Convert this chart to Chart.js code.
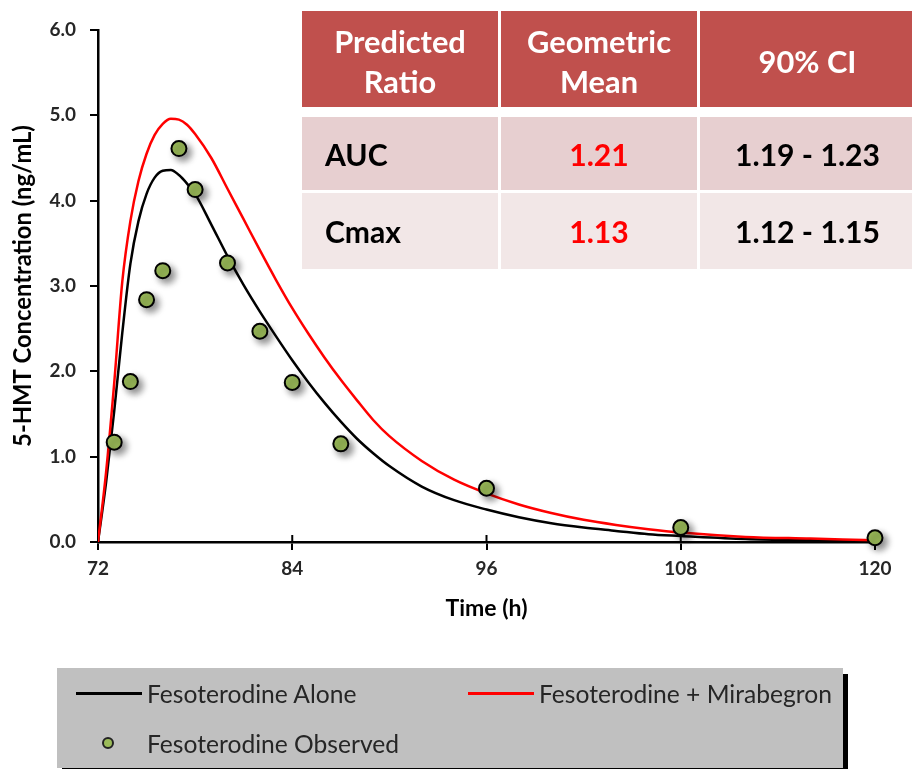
<!DOCTYPE html>
<html>
<head>
<meta charset="utf-8">
<script src="https://cdn.jsdelivr.net/npm/chart.js@4.4.1/dist/chart.umd.min.js"></script>
<style>
  html, body { margin: 0; padding: 0; background: #fff; overflow: hidden; }
  #wrap { position: relative; width: 912px; height: 769px; }
  #c { position: absolute; left: 0; top: 0; }
  #tbl { position: absolute; left: 302px; top: 11px; display: grid;
         grid-template-columns: 196px 196px 215px; grid-template-rows: 96px 4px 73px 76px;
         column-gap: 3px; row-gap: 3px; font-family: Lato, sans-serif; font-weight: bold; }
  #tbl div { display: flex; align-items: center; justify-content: center; text-align: center; box-sizing: border-box; }
  #tbl .h { background: #C0504D; color: #fff; padding-top: 6px; line-height: 40px; }
  #tbl .r1 { background: #E7CFD0; }
  #tbl .r2 { background: #F2E7E7; }
  #tbl .lab { justify-content: flex-start; padding-left: 23px; color: #000; }
  #tbl .gm { color: #FF0000; }
  #tbl .ci { color: #000; }
  #leg { position: absolute; left: 57px; top: 668px; width: 786px; height: 100px; background: #C0C0C0;
         box-shadow: 5px 6px 0 #000; font-family: Lato, sans-serif; color: #262626; }
  #leg .it { position: absolute; display: flex; align-items: center; height: 30px; white-space: nowrap; }
  #leg .sw { height: 3px; }
  #leg .dot { width: 12px; height: 12px; border-radius: 50%; border: 2px solid #222; background: #9BBB59; box-sizing: border-box; }
</style>
</head>
<body>
<div id="wrap">
  <canvas id="c" width="912" height="769"></canvas>
  <div id="tbl"></div>
  <div id="leg"></div>
</div>
<script>
// ---------- data ----------
const timeGrid  = [72, 72.5, 73, 73.5, 74, 74.5, 75, 75.5, 76, 76.5, 77, 77.5, 78, 79, 80, 81, 82, 83, 84, 85, 86, 87, 88, 89, 90, 92, 94, 96, 98, 100, 102, 104, 106, 108, 112, 116, 120];
const aloneConc = [0, 0.70, 1.53, 2.45, 3.26, 3.76, 4.08, 4.27, 4.35, 4.36, 4.30, 4.20, 4.08, 3.72, 3.35, 3.01, 2.70, 2.41, 2.13, 1.87, 1.63, 1.41, 1.21, 1.04, 0.89, 0.65, 0.49, 0.38, 0.29, 0.22, 0.17, 0.13, 0.09, 0.07, 0.035, 0.02, 0.01];
const comboConc = [0, 0.82, 1.86, 3.05, 3.76, 4.23, 4.55, 4.77, 4.90, 4.96, 4.95, 4.89, 4.78, 4.50, 4.14, 3.78, 3.42, 3.07, 2.74, 2.44, 2.16, 1.90, 1.66, 1.43, 1.24, 0.95, 0.73, 0.57, 0.44, 0.34, 0.26, 0.20, 0.15, 0.11, 0.06, 0.04, 0.02];
const obsTime   = [73, 74, 75, 76, 77, 78, 80, 82, 84, 87, 96, 108, 120];
const obsConc   = [1.17, 1.88, 2.84, 3.18, 4.61, 4.13, 3.27, 2.47, 1.87, 1.15, 0.63, 0.17, 0.05];
const seriesNames = ['Fesoterodine Alone', 'Fesoterodine + Mirabegron', 'Fesoterodine Observed'];
const xTickValues = [72, 84, 96, 108, 120];
const yTickValues = [0, 1, 2, 3, 4, 5, 6];
const xTitle = 'Time (h)';
const yTitle = '5-HMT Concentration (ng/mL)';
const tableHeader = ['Predicted<br>Ratio', 'Geometric<br>Mean', '90% CI'];
const tableParams = ['AUC', 'Cmax'];
const tableGeoMean = ['1.21', '1.13'];
const tableCI = ['1.19 - 1.23', '1.12 - 1.15'];

// ---------- font fitting ----------
const FAM = 'Lato';
const mctx = document.createElement('canvas').getContext('2d');
function fitSize(text, weight, target) {
  mctx.font = weight + ' 100px ' + FAM;
  return 100 * target / mctx.measureText(text).width;
}
const tickSize   = fitSize('120', 'bold', 33);
const yTitleSize = fitSize(yTitle, 'bold', 322);
const xTitleSize = fitSize(xTitle, 'bold', 82);
const headSize   = fitSize('Geometric', 'bold', 144);
const bodySize   = fitSize('1.19 - 1.23', 'bold', 145);
const legSize    = fitSize('Fesoterodine + Mirabegron', 'normal', 293);

// ---------- table ----------
const tbl = document.getElementById('tbl');
tableHeader.forEach((h, i) => {
  const d = document.createElement('div'); d.className = 'h'; d.innerHTML = h;
  d.style.gridRow = '1'; d.style.gridColumn = String(i + 1); d.style.fontSize = headSize + 'px';
  tbl.appendChild(d);
});
tableParams.forEach((p, r) => {
  const cls = r === 0 ? 'r1' : 'r2';
  const vals = [p, tableGeoMean[r], tableCI[r]];
  const kinds = ['lab', 'gm', 'ci'];
  vals.forEach((v, i) => {
    const d = document.createElement('div'); d.className = cls + ' ' + kinds[i]; d.textContent = v;
    d.style.gridRow = String(r + 3); d.style.gridColumn = String(i + 1); d.style.fontSize = bodySize + 'px';
    tbl.appendChild(d);
  });
});

// ---------- legend ----------
const leg = document.getElementById('leg');
leg.style.fontSize = legSize + 'px';
const legItems = [
  { name: seriesNames[0], kind: 'line', color: '#000', left: 19, top: 10 },
  { name: seriesNames[1], kind: 'line', color: '#FF0000', left: 411, top: 10 },
  { name: seriesNames[2], kind: 'dot', color: '#9BBB59', left: 45, top: 60 }
];
legItems.forEach(it => {
  const e = document.createElement('div'); e.className = 'it';
  e.style.left = it.left + 'px'; e.style.top = it.top + 'px';
  const s = document.createElement('div');
  if (it.kind === 'line') { s.className = 'sw'; s.style.width = '66px'; s.style.background = it.color; s.style.marginRight = '5px'; }
  else { s.className = 'dot'; s.style.marginRight = '33px'; }
  const t = document.createElement('span'); t.textContent = it.name;
  e.appendChild(s); e.appendChild(t); leg.appendChild(e);
});

// ---------- plugins ----------
const crossTicks = {
  id: 'crossTicks',
  beforeDatasetsDraw(chart) {
    const xs = chart.scales.x, a = chart.chartArea, ctx = chart.ctx;
    ctx.save(); ctx.strokeStyle = '#000'; ctx.lineWidth = 2;
    xTickValues.forEach(v => {
      const px = xs.getPixelForValue(v);
      ctx.beginPath(); ctx.moveTo(px, a.bottom - 7); ctx.lineTo(px, a.bottom); ctx.stroke();
    });
    ctx.restore();
  }
};
const pointShadow = {
  id: 'pointShadow',
  beforeDatasetDraw(chart, args) {
    if (args.index === 2) {
      const c = chart.ctx; c.save();
      c.shadowColor = 'rgba(0,0,0,0.45)'; c.shadowBlur = 7; c.shadowOffsetX = 4; c.shadowOffsetY = 4;
    }
  },
  afterDatasetDraw(chart, args) { if (args.index === 2) chart.ctx.restore(); }
};

// ---------- chart ----------
const toXY = (xs, ys) => xs.map((x, i) => ({ x: x, y: ys[i] }));
new Chart(document.getElementById('c'), {
  type: 'scatter',
  data: {
    datasets: [
      { label: seriesNames[0], data: toXY(timeGrid, aloneConc), showLine: true, borderColor: '#000', borderWidth: 2.5,
        pointRadius: 0, cubicInterpolationMode: 'monotone', order: 2 },
      { label: seriesNames[1], data: toXY(timeGrid, comboConc), showLine: true, borderColor: '#FF0000', borderWidth: 2.5,
        pointRadius: 0, cubicInterpolationMode: 'monotone', order: 1 },
      { label: seriesNames[2], data: toXY(obsTime, obsConc), showLine: false, pointRadius: 7.5, pointBorderWidth: 2,
        pointBackgroundColor: '#9BBB59', pointBorderColor: '#000', order: 0, clip: false }
    ]
  },
  options: {
    responsive: false, animation: false,
    layout: { padding: { left: 0, top: 30, right: 37, bottom: 137 } },
    plugins: { legend: { display: false }, tooltip: { enabled: false } },
    scales: {
      x: {
        type: 'linear', min: 72, max: 120,
        afterBuildTicks(s) { s.ticks = xTickValues.map(v => ({ value: v })); },
        ticks: { color: '#262626', font: { family: FAM, weight: 'bold', size: tickSize }, padding: 8, maxRotation: 0 },
        grid: { display: true, drawOnChartArea: false, drawTicks: true, tickLength: 8, color: '#000', lineWidth: 2 },
        border: { display: true, color: '#000', width: 2.5 },
        title: { display: true, text: xTitle, color: '#000', font: { family: FAM, weight: 'bold', size: xTitleSize }, padding: { top: 0, bottom: 10 } },
        afterFit(s) { s.height = 90; }
      },
      y: {
        type: 'linear', min: 0, max: 6,
        afterBuildTicks(s) { s.ticks = yTickValues.map(v => ({ value: v })); },
        ticks: { color: '#262626', font: { family: FAM, weight: 'bold', size: tickSize }, padding: 14,
                 callback: v => Number(v).toFixed(1) },
        grid: { display: true, drawOnChartArea: false, drawTicks: true, tickLength: 8, color: '#000', lineWidth: 2 },
        border: { display: true, color: '#000', width: 2.5 },
        title: { display: true, text: yTitle, color: '#000', font: { family: FAM, weight: 'bold', size: yTitleSize }, padding: { top: 9, bottom: 0 } },
        afterFit(s) { s.width = 98; }
      }
    }
  },
  plugins: [crossTicks, pointShadow]
});
</script>
</body>
</html>
